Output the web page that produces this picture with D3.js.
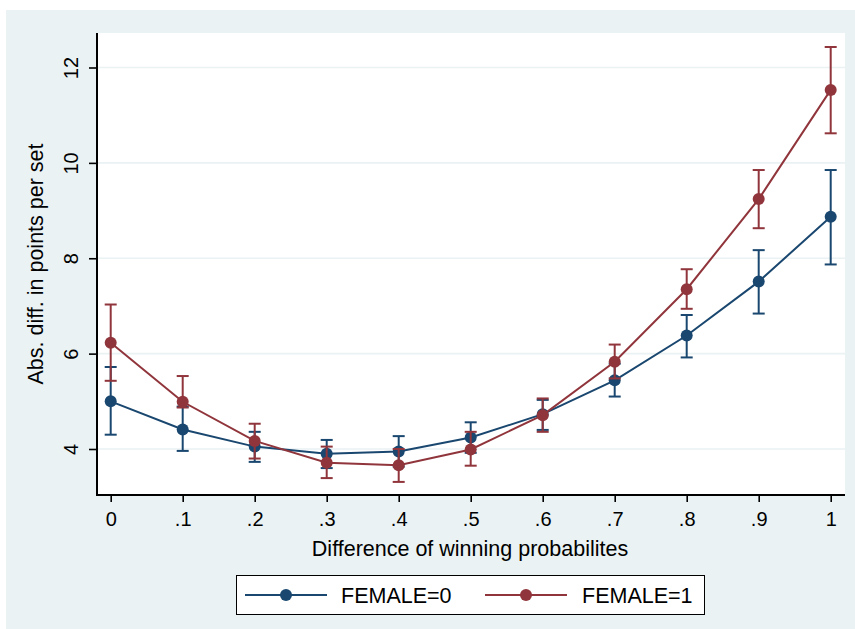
<!DOCTYPE html>
<html>
<head>
<meta charset="utf-8">
<script src="https://cdn.jsdelivr.net/npm/d3@7"></script>
<style>
  body { margin: 0; background: #fff; }
  svg text { font-family: "Liberation Sans", Arial, Helvetica, sans-serif; fill: #000; }
</style>
</head>
<body>
<svg id="chart" width="855" height="629"></svg>
<script>
// difference of winning probabilities (x categories)
const probs = [0, 0.1, 0.2, 0.3, 0.4, 0.5, 0.6, 0.7, 0.8, 0.9, 1];
const xTickLabels = ["0", ".1", ".2", ".3", ".4", ".5", ".6", ".7", ".8", ".9", "1"];
const yTicks = [4, 6, 8, 10, 12];

// FEMALE=0
const male = [5.00, 4.41, 4.05, 3.90, 3.95, 4.24, 4.73, 5.44, 6.38, 7.51, 8.87];
const maleLo = [4.30, 3.96, 3.73, 3.60, 3.63, 3.92, 4.40, 5.10, 5.92, 6.84, 7.87];
const maleHi = [5.72, 4.89, 4.36, 4.19, 4.27, 4.56, 5.03, 5.79, 6.81, 8.17, 9.85];

// FEMALE=1
const female = [6.23, 4.99, 4.17, 3.71, 3.66, 3.99, 4.71, 5.83, 7.35, 9.24, 11.53];
const femaleLo = [5.43, 4.87, 3.80, 3.39, 3.31, 3.65, 4.36, 5.48, 6.94, 8.63, 10.62];
const femaleHi = [7.03, 5.53, 4.53, 4.05, 4.00, 4.36, 5.06, 6.19, 7.77, 9.85, 12.43];

const seriesNames = ["FEMALE=0", "FEMALE=1"];
const colors = ["#1a476f", "#90353b"];

const svg = d3.select("#chart");
const bg = "#eaf2f3";

// outer graph region
svg.append("rect").attr("x", 6).attr("y", 10).attr("width", 849).attr("height", 619).attr("fill", bg);

const plot = {left: 97, right: 845, top: 33, bottom: 495};
svg.append("rect")
    .attr("x", plot.left).attr("y", plot.top)
    .attr("width", plot.right - plot.left).attr("height", plot.bottom - plot.top)
    .attr("fill", "#fff");

const x = d3.scaleLinear().domain([0, 1]).range([110.7, 830.7]);
const y = d3.scaleLinear().domain([4, 12]).range([449, 67.5]);

// grid
svg.append("g").selectAll("line").data(yTicks).join("line")
    .attr("x1", plot.left).attr("x2", plot.right)
    .attr("y1", d => y(d)).attr("y2", d => y(d))
    .attr("stroke", bg).attr("stroke-width", 1.6);

// axes
const xAxis = svg.append("g").attr("transform", `translate(0,${plot.bottom})`)
    .call(d3.axisBottom(x).tickValues(probs).tickFormat((d, i) => xTickLabels[i]).tickSize(7).tickPadding(7));
const yAxis = svg.append("g").attr("transform", `translate(${plot.left},0)`)
    .call(d3.axisLeft(y).tickValues(yTicks).tickFormat(d3.format("d")).tickSize(8));

[xAxis, yAxis].forEach(a => {
    a.select(".domain").remove();
    a.selectAll(".tick line").attr("stroke", "#000").attr("stroke-width", 1.6);
    a.selectAll(".tick text").attr("font-size", 20).attr("fill", "#000");
});
// y labels are turned on their side, as Stata does
yAxis.selectAll(".tick text")
    .attr("text-anchor", "middle")
    .attr("transform", "translate(-19,0) rotate(-90)")
    .attr("x", 0).attr("y", 0).attr("dy", 0);
xAxis.selectAll(".tick text").attr("dy", "0.85em");

svg.append("line").attr("x1", plot.left).attr("x2", plot.left).attr("y1", plot.top).attr("y2", plot.bottom + 1)
    .attr("stroke", "#000").attr("stroke-width", 2);
svg.append("line").attr("x1", plot.left - 1).attr("x2", plot.right).attr("y1", plot.bottom).attr("y2", plot.bottom)
    .attr("stroke", "#000").attr("stroke-width", 2);

// axis titles
svg.append("text").attr("x", 470).attr("y", 556).attr("text-anchor", "middle").attr("font-size", 21.5)
    .text("Difference of winning probabilites");
svg.append("text").attr("transform", "translate(43,264) rotate(-90)").attr("text-anchor", "middle").attr("font-size", 21.5)
    .text("Abs. diff. in points per set");

// series
const series = [
    {mean: male, lo: maleLo, hi: maleHi},
    {mean: female, lo: femaleLo, hi: femaleHi}
];
const line = d3.line().x((d, i) => x(probs[i])).y(d => y(d));
const capW = 6;

series.forEach((s, k) => {
    const g = svg.append("g");
    const c = colors[k];
    g.append("path").datum(s.mean).attr("d", line).attr("fill", "none").attr("stroke", c).attr("stroke-width", 2);
    probs.forEach((p, i) => {
        const px = x(p);
        g.append("line").attr("x1", px).attr("x2", px).attr("y1", y(s.lo[i])).attr("y2", y(s.hi[i]))
            .attr("stroke", c).attr("stroke-width", 2);
        [s.lo[i], s.hi[i]].forEach(v => {
            g.append("line").attr("x1", px - capW).attr("x2", px + capW).attr("y1", y(v)).attr("y2", y(v))
                .attr("stroke", c).attr("stroke-width", 2);
        });
    });
    g.selectAll("circle").data(s.mean).join("circle")
        .attr("cx", (d, i) => x(probs[i])).attr("cy", d => y(d)).attr("r", 6).attr("fill", c);
});

// legend
const lg = svg.append("g");
lg.append("rect").attr("x", 236.5).attr("y", 575.5).attr("width", 468).attr("height", 39)
    .attr("fill", "#fff").attr("stroke", "#000").attr("stroke-width", 1);
const legendItems = [
    {x0: 245, x1: 327, tx: 341},
    {x0: 485, x1: 567, tx: 582}
];
legendItems.forEach((it, k) => {
    lg.append("line").attr("x1", it.x0).attr("x2", it.x1).attr("y1", 595).attr("y2", 595)
        .attr("stroke", colors[k]).attr("stroke-width", 2);
    lg.append("circle").attr("cx", (it.x0 + it.x1) / 2).attr("cy", 595).attr("r", 6).attr("fill", colors[k]);
    lg.append("text").attr("x", it.tx).attr("y", 602.5).attr("font-size", 21.5).text(seriesNames[k]);
});
</script>
</body>
</html>
